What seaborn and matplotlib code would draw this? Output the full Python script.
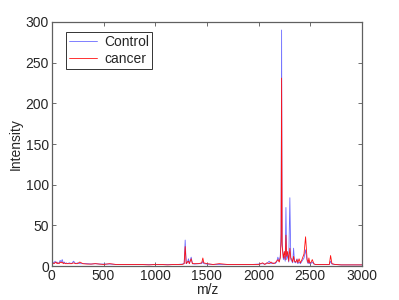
import matplotlib
matplotlib.use("Agg")
import pandas as pd
import matplotlib.pyplot as plt
import seaborn as sns

# m/z sample positions shared by both spectra
mz = [0, 10, 20, 30, 40, 50, 60, 70, 80, 90, 100, 110, 120, 130, 140, 150,
      170, 190, 210, 230, 250, 270, 300, 340, 380, 420, 460, 500, 560, 620,
      700, 780, 860, 940, 1000, 1060, 1120, 1180, 1220, 1260, 1280, 1290,
      1300, 1310, 1322, 1330, 1348, 1360, 1380, 1420, 1450, 1461, 1470, 1500,
      1560, 1620, 1700, 1780, 1860, 1940, 2000, 2040, 2060, 2080, 2103, 2120,
      2140, 2160, 2175, 2187, 2200, 2210, 2218, 2223, 2228, 2240, 2250, 2258,
      2265, 2272, 2282, 2292, 2303, 2312, 2322, 2330, 2339, 2348, 2360, 2372,
      2380, 2392, 2405, 2420, 2440, 2455, 2470, 2480, 2487, 2495, 2505, 2520,
      2535, 2550, 2580, 2620, 2660, 2685, 2697, 2710, 2740, 2800, 2860, 2920,
      3000]

control = [4, 5, 3, 6, 4, 5, 3, 4, 7, 5, 8, 4, 5, 3, 4, 3,
           4, 3, 6, 3, 4, 3, 3, 3, 2.5, 3, 2.5, 2.5, 2.5, 2,
           2, 2, 2, 2, 2, 2, 2, 2, 2, 2.5, 3, 32,
           3, 4, 9, 3, 11, 3, 2.5, 3, 3, 6, 3, 2.5,
           2, 2, 2, 2, 2, 2, 2.5, 3, 2.5, 3, 6, 3,
           4, 3, 5, 11, 6, 12, 40, 290, 30, 8, 12, 6,
           72, 8, 14, 5, 84, 8, 6, 4, 22, 5, 4, 9,
           3, 5, 3, 6, 10, 20, 6, 3, 7, 3, 3, 5,
           2.5, 2, 2, 2, 2, 2, 6, 2.5, 2, 1.5, 1.5, 1.5,
           1.5]

cancer = [3, 4, 3, 4, 5, 3, 4, 3, 5, 4, 5, 3, 4, 3, 3, 3,
          3, 3, 4, 3, 3, 5, 3, 2.5, 2.5, 3, 2.5, 2, 3, 2,
          2, 2, 2, 1.5, 2, 2, 1.5, 2, 2, 2, 3, 24,
          3, 5, 6, 3, 9, 3, 3, 3, 4, 10, 4, 3,
          2, 3, 2, 2, 2, 2, 2, 4, 2, 4, 3, 5,
          3, 4, 6, 8, 5, 10, 30, 231, 25, 10, 18, 8,
          38, 12, 18, 6, 22, 10, 8, 5, 12, 6, 5, 8,
          4, 9, 4, 8, 15, 36, 8, 4, 10, 4, 4, 8,
          3, 2, 2, 2, 2, 2, 13, 3, 2, 1.5, 1.5, 1.5,
          1.5]

sns.set_style("white")
plt.rcParams["font.family"] = ["Liberation Sans", "DejaVu Sans"]

fig = plt.figure(figsize=(3.99, 3.0), dpi=100)
ax = fig.add_axes([0.13, 0.113, 0.777, 0.814])

sns.lineplot(x=mz, y=control, ax=ax, color="#6a6aff", lw=0.6,
             estimator=None, sort=False, label="Control")
sns.lineplot(x=mz, y=cancer, ax=ax, color="#ff1010", lw=0.6,
             estimator=None, sort=False, label="cancer")

ax.set_xlim(0, 3000)
ax.set_ylim(0, 300)
ax.set_xticks(range(0, 3001, 500))
ax.set_yticks(range(0, 301, 50))
ax.set_xlabel("m/z", fontsize=10, labelpad=0)
ax.set_ylabel("Intensity", fontsize=10, labelpad=2)
ax.tick_params(direction="in", length=3, width=0.6, labelsize=10,
               top=True, right=True, bottom=True, left=True,
               color="#555555", pad=2)
for s in ax.spines.values():
    s.set_visible(True)
    s.set_color("#606060")
    s.set_linewidth(0.9)

leg = ax.legend(loc="upper left", bbox_to_anchor=(0.045, 0.96), fontsize=10,
                frameon=True, fancybox=False, handlelength=2.0,
                borderpad=0.25, labelspacing=0.2, handletextpad=0.5,
                borderaxespad=0)
leg.get_frame().set_edgecolor("black")
leg.get_frame().set_linewidth(0.7)

fig.savefig("out.png", dpi=100)
